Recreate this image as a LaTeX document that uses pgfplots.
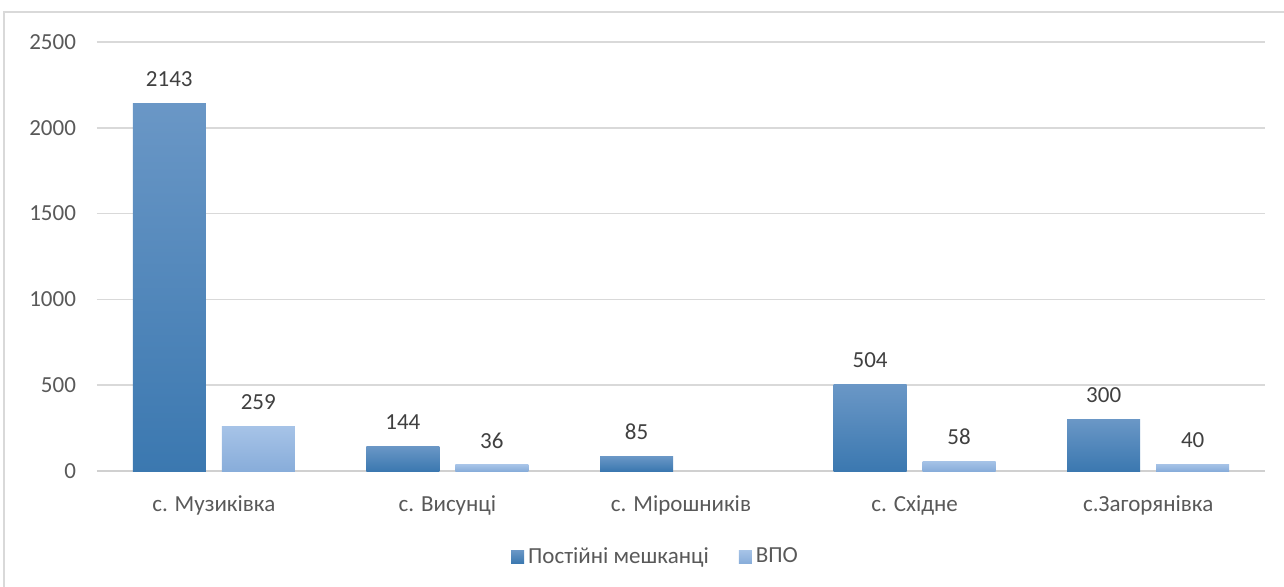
\documentclass[border=0pt]{standalone}
\usepackage{pgfplots}
\pgfplotsset{compat=1.18}
\usepackage{fontspec}
\setmainfont{Carlito}

\definecolor{gridc}{HTML}{D9D9D9}
\definecolor{zeroc}{HTML}{D0D0D0}
\definecolor{labc}{HTML}{595959}
\definecolor{numc}{HTML}{404040}
\definecolor{darktop}{HTML}{6A97C6}
\definecolor{darkbot}{HTML}{3B78B0}
\definecolor{lighttop}{HTML}{A6C3E7}
\definecolor{lightbot}{HTML}{88ADDA}

% each bar is its own plot so that every bar gets its own gradient
\pgfplotsset{
  sqlegend/.style={legend image code/.code={
    \draw[##1, draw=none] (0pt,-3.25pt) rectangle (6.5pt,3.25pt);}},
  darkbar/.style={ybar, bar width=36.5pt, bar shift=-22.25pt, sqlegend,
    draw=none, top color=darktop, bottom color=darkbot,
    every node near coord/.append style={xshift=-22.25pt}},
  lightbar/.style={ybar, bar width=36.5pt, bar shift=22.25pt, sqlegend,
    draw=none, top color=lighttop, bottom color=lightbot,
    every node near coord/.append style={xshift=22.25pt}},
}

\begin{document}
\begin{tikzpicture}
\useasboundingbox (0,0) rectangle (642pt,293pt);
% chart frame, cut by the page on the right and at the bottom
\draw[gridc, line width=0.8pt] (2pt,-10pt) -- (2pt,287pt) -- (660pt,287pt);
\begin{axis}[
    at={(48.5pt,57.5pt)}, anchor=south west,
    scale only axis, width=584pt, height=214.5pt,
    ymin=0, ymax=2500, ytick={0,500,...,2500},
    xmin=-0.5, xmax=4.5, xtick={0,...,4},
    xticklabels={с. Музиківка, с. Висунці, с. Мірошників, с. Східне, с.Загорянівка},
    axis line style={draw=none},
    major tick length=0pt,
    ymajorgrids, grid style={gridc, line width=0.75pt},
    /pgf/number format/1000 sep={},
    /pgf/number format/assume math mode=true,
    tick label style={font=\fontsize{11.5}{13}\selectfont, text=labc},
    yticklabel style={xshift=-7pt},
    xticklabel style={yshift=-9pt},
    nodes near coords,
    nodes near coords style={font=\fontsize{11.5}{13}\selectfont, text=numc, yshift=4.7pt},
    legend style={draw=none, fill=none, legend columns=2,
      at={(0.479,-0.2)}, anchor=center,
      font=\fontsize{11.5}{13}\selectfont, text=labc,
      /tikz/every even column/.append style={column sep=13pt}},
    clip=false,
  ]
  \draw[zeroc, line width=1.2pt] (rel axis cs:0,0) -- (rel axis cs:1,0);
  % Постійні мешканці / ВПО
  \addplot[darkbar] coordinates {(0,2143)};
  \addlegendentry{Постійні мешканці}
  \addplot[lightbar] coordinates {(0,259)};
  \addlegendentry{ВПО}
  \addplot[darkbar, forget plot] coordinates {(1,144)};
  \addplot[lightbar, forget plot] coordinates {(1,36)};
  \addplot[darkbar, forget plot] coordinates {(2,85)};
  \addplot[darkbar, forget plot] coordinates {(3,504)};
  \addplot[lightbar, forget plot] coordinates {(3,58)};
  \addplot[darkbar, forget plot] coordinates {(4,300)};
  \addplot[lightbar, forget plot] coordinates {(4,40)};
\end{axis}
\end{tikzpicture}
\end{document}
